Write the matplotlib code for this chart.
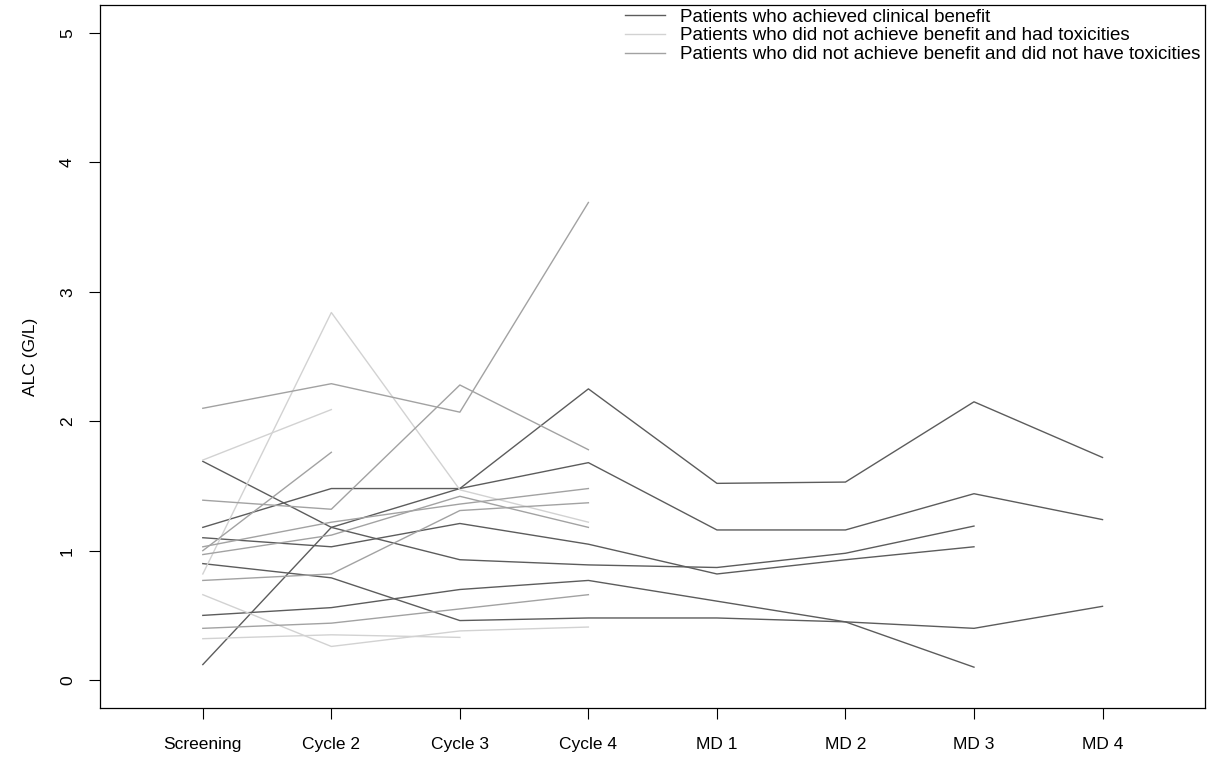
import numpy as np
import matplotlib
matplotlib.use("Agg")
import matplotlib.pyplot as plt

plt.rcParams['font.family'] = ['Liberation Sans', 'DejaVu Sans']

visits = ['Screening', 'Cycle 2', 'Cycle 3', 'Cycle 4', 'MD 1', 'MD 2', 'MD 3', 'MD 4']
NA = None

# ALC values per patient (G/L)
benefit = [
    [0.12, 1.18, 1.48, 2.25, 1.52, 1.53, 2.15, 1.72],
    [1.18, 1.48, 1.48, 1.68, 1.16, 1.16, 1.44, 1.24],
    [1.69, 1.18, 0.93, 0.89, 0.87, 0.98, 1.19, NA],
    [1.10, 1.03, 1.21, 1.05, 0.82, 0.93, 1.03, NA],
    [0.50, 0.56, 0.70, 0.77, 0.61, 0.45, 0.10, NA],
    [0.90, 0.79, 0.46, 0.48, 0.48, 0.45, 0.40, 0.57],
]
toxic = [
    [0.82, 2.84, 1.47, 1.22, NA, NA, NA, NA],
    [1.70, 2.09, NA, NA, NA, NA, NA, NA],
    [0.66, 0.26, 0.38, 0.41, NA, NA, NA, NA],
    [0.32, 0.35, 0.33, NA, NA, NA, NA, NA],
    [1.88, NA, NA, NA, NA, NA, NA, NA],
]
no_toxic = [
    [2.10, 2.29, 2.07, 3.69, NA, NA, NA, NA],
    [1.39, 1.32, 2.28, 1.78, NA, NA, NA, NA],
    [1.00, 1.76, NA, NA, NA, NA, NA, NA],
    [0.40, 0.44, 0.55, 0.66, NA, NA, NA, NA],
    [1.03, 1.22, 1.36, 1.48, NA, NA, NA, NA],
    [0.77, 0.82, 1.31, 1.37, NA, NA, NA, NA],
    [0.97, 1.12, 1.42, 1.18, NA, NA, NA, NA],
]

groups = [
    ('Patients who achieved clinical benefit', benefit, '#5c5c5c'),
    ('Patients who did not achieve benefit and had toxicities', toxic, '#d2d2d2'),
    ('Patients who did not achieve benefit and did not have toxicities', no_toxic, '#a2a2a2'),
]

fig = plt.figure(figsize=(12.12, 7.63), dpi=100)
ax = fig.add_axes([0.0825, 0.072, 0.912, 0.9215])

x = np.arange(len(visits))
for label, rows, color in groups:
    for i, row in enumerate(rows):
        y = np.array([np.nan if v is None else v for v in row], dtype=float)
        ax.plot(x, y, color=color, lw=1.0, label=label if i == 0 else None)

ax.set_xlim(-0.8, 7.8)
ax.set_ylim(-0.216, 5.216)
ax.set_xticks(x)
ax.set_xticklabels(visits, fontsize=12.5)
ax.set_yticks(range(6))
ax.set_yticklabels([str(v) for v in range(6)], fontsize=12.5, rotation=90, va='center')
ax.tick_params(direction='out', length=8, width=0.8)
ax.tick_params(axis='x', pad=13)
ax.tick_params(axis='y', pad=10)
ax.set_ylabel('ALC (G/L)', fontsize=12.5)
ax.yaxis.set_label_coords(-0.056, 0.5)
for sp in ax.spines.values():
    sp.set_linewidth(0.9)

ax.legend(loc='upper left', bbox_to_anchor=(0.472, 1.0), frameon=False, fontsize=13.5,
          handlelength=2.1, handletextpad=0.8, labelspacing=0.08, borderpad=0.1,
          borderaxespad=0.1)

fig.savefig('out.png', dpi=100)
